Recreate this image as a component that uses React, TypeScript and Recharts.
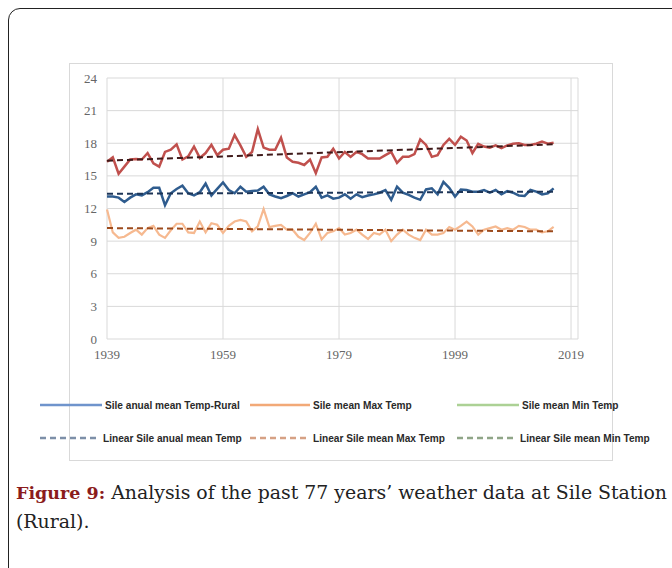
import { LineChart, Line, XAxis, YAxis, CartesianGrid, ReferenceLine } from "recharts";

const startYear = 1939;
const xTicks = [1939, 1959, 1979, 1999, 2019];
const yTicks = [0, 3, 6, 9, 12, 15, 18, 21, 24];

// Sile annual mean temp (rural)
const meanTemp = [
  13.1, 13.1, 13.0, 12.6, 13.0, 13.3, 13.2, 13.5, 13.9, 13.9,
  12.3, 13.4, 13.8, 14.1, 13.4, 13.2, 13.5, 14.3, 13.2, 13.8,
  14.4, 13.7, 13.4, 14.0, 13.55, 13.6, 13.65, 14.0, 13.3, 13.1,
  12.95, 13.15, 13.4, 13.1, 13.3, 13.5, 14.0, 13.0, 13.2, 12.9,
  13.0, 13.3, 12.9, 13.3, 13.05, 13.2, 13.3, 13.45, 13.7, 12.8,
  14.0, 13.45, 13.25, 13.0, 12.8, 13.75, 13.85, 13.3, 14.45, 13.9,
  13.1, 13.75, 13.7, 13.55, 13.55, 13.7, 13.45, 13.7, 13.3, 13.6,
  13.45, 13.2, 13.15, 13.7, 13.55, 13.3, 13.4, 13.85,
];

// orange series
const maxTemp = [
  11.9, 9.8, 9.3, 9.4, 9.75, 10.05, 9.6, 10.2, 10.4, 9.6,
  9.3, 10.0, 10.6, 10.6, 9.8, 9.75, 10.8, 9.8, 10.65, 10.5,
  9.75, 10.4, 10.8, 10.95, 10.8, 9.9, 10.35, 11.95, 10.3, 10.4,
  10.5, 10.05, 10.05, 9.4, 9.1, 9.75, 10.6, 9.15, 9.75, 9.9,
  10.2, 9.6, 9.75, 10.05, 9.6, 9.2, 9.75, 9.6, 10.05, 9.0,
  9.6, 10.05, 9.6, 9.3, 9.1, 10.05, 9.6, 9.6, 9.75, 10.3,
  10.05, 10.4, 10.8, 10.35, 9.6, 10.05, 10.2, 10.35, 10.05, 10.2,
  10.05, 10.4, 10.3, 10.05, 10.05, 9.8, 9.9, 10.3,
];

// red series
const minTemp = [
  16.3, 16.7, 15.2, 15.85, 16.5, 16.55, 16.5, 17.1, 16.15, 15.85,
  17.2, 17.4, 17.9, 16.5, 16.8, 17.7, 16.65, 17.1, 17.85, 16.9,
  17.4, 17.5, 18.75, 17.8, 16.75, 17.2, 19.3, 17.6, 17.4, 17.4,
  18.5, 16.7, 16.3, 16.2, 16.0, 16.5, 15.25, 16.7, 16.75, 17.5,
  16.6, 17.2, 16.75, 17.2, 17.0, 16.6, 16.6, 16.6, 16.9, 17.2,
  16.2, 16.75, 16.75, 17.0, 18.35, 17.85, 16.75, 16.9, 17.85, 18.4,
  17.85, 18.6, 18.25, 17.1, 17.95, 17.7, 17.6, 17.8, 17.55, 17.8,
  17.95, 18.0, 17.85, 17.85, 17.95, 18.15, 17.95, 18.05,
];

// linear trend ends [1939, 2016]
const trendYears = [1939, 2016];
const meanTrend = [13.35, 13.55];
const maxTrend = [10.2, 9.9];
const minTrend = [16.4, 17.9];

const data = meanTemp.map((v, i) => ({
  year: startYear + i,
  mean: v,
  max: maxTemp[i],
  min: minTemp[i],
}));

const seg = (vals: number[]) => [
  { x: trendYears[0], y: vals[0] },
  { x: trendYears[1], y: vals[1] },
];

const legendRow1 = [
  { label: "Sile anual mean Temp-Rural", color: "#6f94cc", x: 40, w: 62 },
  { label: "Sile mean Max Temp", color: "#f2a977", x: 250, w: 60 },
  { label: "Sile mean Min Temp", color: "#acd195", x: 457, w: 62 },
];
const legendRow2 = [
  { label: "Linear Sile anual mean Temp", color: "#7d8fa8", x: 40, w: 60 },
  { label: "Linear Sile mean Max Temp", color: "#d6a184", x: 250, w: 60 },
  { label: "Linear Sile mean Min Temp", color: "#8fa587", x: 457, w: 60 },
];

const tickStyle = { fontFamily: "'Liberation Serif', serif", fontSize: 13, fill: "#666" };

function LegendItem({ item, top, dashed }: { item: any; top: number; dashed: boolean }) {
  return (
    <div style={{ position: "absolute", left: item.x - 8, top: top - 8, display: "flex", alignItems: "center" }}>
      <svg width={item.w} height={6}>
        <line x1={0} y1={3} x2={item.w} y2={3} stroke={item.color} strokeWidth={2.5} strokeDasharray={dashed ? "6 4" : undefined} />
      </svg>
      <span
        style={{
          marginLeft: 3,
          fontFamily: "'Liberation Sans', sans-serif",
          fontWeight: "bold",
          fontSize: 11.5,
          color: "#2a2a2a",
          whiteSpace: "nowrap",
          display: "inline-block",
          transform: "scaleX(0.88)",
          transformOrigin: "left center",
        }}
      >
        {item.label}
      </span>
    </div>
  );
}

export default function App() {
  return (
    <div style={{ position: "fixed", left: 8, top: 8, right: 0, bottom: 0, overflow: "hidden", background: "#fff" }}>
      <div style={{ position: "absolute", left: 0, top: 0, width: 720, height: 620, border: "1.5px solid #222", borderRadius: 12 }} />
      <div style={{ position: "absolute", left: 61, top: 55, width: 542, height: 396, border: "1px solid #d9d9d9" }} />
      <div style={{ position: "absolute", left: 52, top: 52 }}>
        <LineChart width={540} height={320} data={data} margin={{ top: 18, right: 22, bottom: 16, left: 17 }}>
          <CartesianGrid stroke="#d9d9d9" strokeWidth={1} />
          <XAxis
            dataKey="year"
            type="number"
            domain={[1939, 2020.2]}
            ticks={xTicks}
            axisLine={false}
            tickLine={false}
            tickSize={0}
            tickMargin={11}
            height={25}
            tick={tickStyle}
          />
          <YAxis
            domain={[0, 24]}
            ticks={yTicks}
            axisLine={false}
            tickLine={false}
            tickSize={0}
            tickMargin={10}
            width={30}
            tick={tickStyle}
          />
          <Line dataKey="max" stroke="#f6b990" strokeWidth={2.2} dot={false} isAnimationActive={false} />
          <Line dataKey="mean" stroke="#2f5c8e" strokeWidth={2.5} dot={false} isAnimationActive={false} />
          <Line dataKey="min" stroke="#c0504d" strokeWidth={2.5} dot={false} isAnimationActive={false} />
          <ReferenceLine segment={seg(maxTrend)} stroke="#9c4a1c" strokeWidth={2} strokeDasharray="6 4" />
          <ReferenceLine segment={seg(meanTrend)} stroke="#1d3557" strokeWidth={2} strokeDasharray="6 4" />
          <ReferenceLine segment={seg(minTrend)} stroke="#3f1a1a" strokeWidth={2} strokeDasharray="6 4" />
        </LineChart>
      </div>
      {legendRow1.map((it) => (
        <LegendItem key={it.label} item={it} top={399} dashed={false} />
      ))}
      {legendRow2.map((it) => (
        <LegendItem key={it.label} item={it} top={432} dashed={true} />
      ))}
      <div style={{ position: "absolute", left: 8, top: 470, width: 664, fontFamily: "'DejaVu Serif', serif", fontSize: 18.9, lineHeight: "28px", color: "#222", whiteSpace: "nowrap" }}>
        <span style={{ fontWeight: "bold", color: "#8b1c1c", fontSize: 17.5 }}>Figure 9:</span> Analysis of the past 77 years’ weather data at Sile Station
        <br />
        (Rural).
      </div>
    </div>
  );
}
